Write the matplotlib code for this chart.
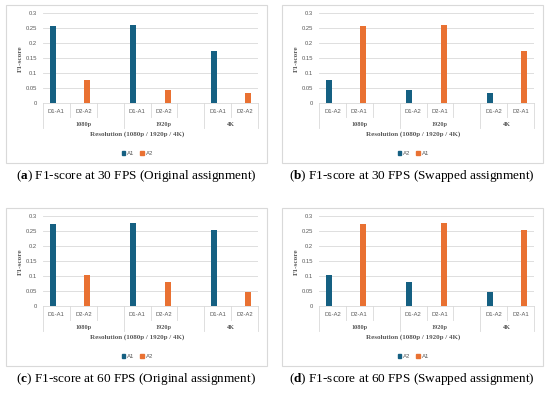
import numpy as np
import matplotlib
matplotlib.use("Agg")
import matplotlib.pyplot as plt
import matplotlib.transforms as mtransforms
from matplotlib.patches import Rectangle

plt.rcParams['mathtext.fontset'] = 'custom'
plt.rcParams['mathtext.rm'] = 'Liberation Serif'
plt.rcParams['mathtext.bf'] = 'Liberation Serif:bold'

# data
resolutions = ["1080p", "1920p", "4K"]
f1_30_a1 = [0.258, 0.261, 0.174]
f1_30_a2 = [0.076, 0.044, 0.035]
f1_60_a1 = [0.275, 0.277, 0.253]
f1_60_a2 = [0.103, 0.081, 0.048]
orig_labels = ["D1-A1", "D2-A2"]
swap_labels = ["D1-A2", "D2-A1"]
yticks = [0, 0.05, 0.1, 0.15, 0.2, 0.25, 0.3]
ytick_labels = ["0", "0.05", "0.1", "0.15", "0.2", "0.25", "0.3"]

BLUE = "#156082"
ORANGE = "#E97132"
GREY = "#595959"
LINE = "#d9d9d9"

W, H = 550, 394
fig = plt.figure(figsize=(5.5, 3.94), dpi=100)


def fx(x):
    return x / W


def fy(y):
    return 1 - y / H


def panel(bx, by, blue_vals, orange_vals, blue_name, orange_name, sub_labels, tag, caption):
    # chart area border
    fig.add_artist(Rectangle((fx(bx), fy(by + 158)), 261 / W, 158 / H,
                             transform=fig.transFigure, fill=False, ec=LINE, lw=0.8))
    ax = fig.add_axes([fx(bx + 37), fy(by + 98.3), 215 / W, 90 / H])

    # slot positions: 3 per group, last group has 2
    blue_x = np.array([3 * i for i in range(len(resolutions))])
    orange_x = blue_x + 1
    ax.bar(blue_x - 0.14, blue_vals, width=0.22, color=BLUE, zorder=3)
    ax.bar(orange_x + 0.14, orange_vals, width=0.22, color=ORANGE, zorder=3)

    nslots = 3 * len(resolutions) - 1
    ax.set_xlim(-0.5, nslots - 0.5)
    ax.set_ylim(0, 0.3)
    ax.set_yticks(yticks)
    ax.set_yticklabels(ytick_labels, fontfamily="Liberation Sans", fontsize=4.2, color=GREY)
    ax.set_xticks([])
    ax.tick_params(axis="y", length=0, pad=4.3)
    ax.grid(axis="y", color=LINE, lw=0.6, zorder=0)
    for s in ["top", "right", "left"]:
        ax.spines[s].set_visible(False)
    ax.spines["bottom"].set_color(LINE)
    ax.spines["bottom"].set_linewidth(0.6)

    # multi-level category axis
    trans = mtransforms.blended_transform_factory(ax.transData, fig.transFigure)
    y0 = fy(by + 98.3)
    for k in range(nslots + 1):
        edge = k - 0.5
        long_line = k in (0, 3, 6, nslots)
        yb = fy(by + (123 if long_line else 112))
        ax.plot([edge, edge], [y0, yb], color=LINE, lw=0.6, transform=trans, clip_on=False)
    for i, r in enumerate(resolutions):
        for j, lab in enumerate(sub_labels):
            ax.text(3 * i + j, fy(by + 106.5), lab, transform=trans, ha="center", va="center",
                    fontfamily="Liberation Sans", fontsize=4.2, color=GREY)
        nslot = 3 if i < len(resolutions) - 1 else 2
        ax.text(3 * i - 0.5 + nslot / 2, fy(by + 119.3), r, transform=trans, ha="center", va="center",
                fontfamily="Liberation Serif", fontweight="bold", fontsize=4.5, color=GREY)

    fig.text(fx(bx + 131), fy(by + 129.5), "Resolution (1080p / 1920p / 4K)", ha="center", va="center",
             fontfamily="Liberation Serif", fontweight="bold", fontsize=5.0, color=GREY)
    fig.text(fx(bx + 14), fy(by + 53.3), "F1-score", rotation=90, ha="center", va="center",
             fontfamily="Liberation Serif", fontweight="bold", fontsize=5.2, color=GREY)

    handles = [Rectangle((0, 0), 1, 1, color=BLUE), Rectangle((0, 0), 1, 1, color=ORANGE)]
    fig.legend(handles, [blue_name, orange_name], loc="center",
               bbox_to_anchor=(fx(bx + 131.5), fy(by + 148.3)), ncol=2, frameon=False,
               prop={"family": "Liberation Sans", "size": 4.3}, labelcolor=GREY,
               handlelength=0.6, handleheight=0.6, handletextpad=0.3, columnspacing=1.0)

    fig.text(fx(bx + 130), fy(by + 171), r"($\mathbf{" + tag + "}$) " + caption,
             ha="center", va="center", fontfamily="Liberation Serif", fontsize=9.5, color="black")


panel(6, 5, f1_30_a1, f1_30_a2, "A1", "A2", orig_labels, "a", "F1-score at 30 FPS (Original assignment)")
panel(282, 5, f1_30_a2, f1_30_a1, "A2", "A1", swap_labels, "b", "F1-score at 30 FPS (Swapped assignment)")
panel(6, 208, f1_60_a1, f1_60_a2, "A1", "A2", orig_labels, "c", "F1-score at 60 FPS (Original assignment)")
panel(282, 208, f1_60_a2, f1_60_a1, "A2", "A1", swap_labels, "d", "F1-score at 60 FPS (Swapped assignment)")

fig.savefig("out.png", dpi=100)
